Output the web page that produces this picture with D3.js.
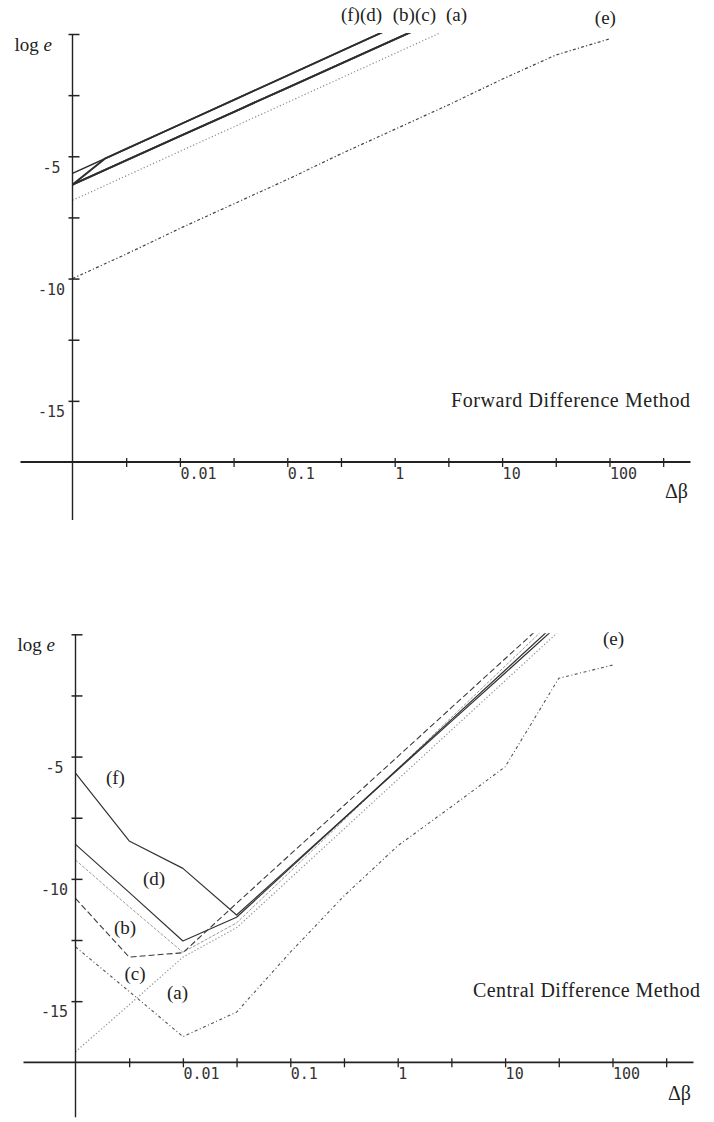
<!DOCTYPE html>
<html><head><meta charset="utf-8">
<script src="https://cdn.jsdelivr.net/npm/d3@7"></script>
<style>body{margin:0;background:#fff}</style>
</head><body>
<svg id="c" width="714" height="1122"></svg>
<script>
// ---------- data ----------
const gridDb = [0.001, 0.00316, 0.01, 0.0316, 0.1, 0.316, 1, 3.16, 10, 31.6, 100];
const xTickValues = [0.00316, 0.01, 0.0316, 0.1, 0.316, 1, 3.16, 10, 31.6, 100, 316];
const xTickLabels = ["", "0.01", "", "0.1", "", "1", "", "10", "", "100", ""];
const yTickValues = [0, -2.5, -5, -7.5, -10, -12.5, -15];
const yTickLabels = ["", "", "-5", "", "-10", "", "-15"];

// Forward difference method (log e)
const fwdA = [-6.8, -5.8, -4.8, -3.8, -2.8, -1.8, -0.8, 0.2];
const fwdB = [-6.16, -5.17, -4.18, -3.19, -2.2, -1.21, -0.22, 0.77];
const fwdC = [-6.16, -5.17, -4.18, -3.19, -2.2, -1.21, -0.22, 0.77];
const fwdDX = [0.001, 0.002, 0.00316, 0.01, 0.0316, 0.1, 0.316, 1];
const fwdD = [-6.16, -5.1, -4.7, -3.7, -2.7, -1.7, -0.7, 0.3];
const fwdF = [-5.7, -4.7, -3.7, -2.7, -1.7, -0.7, 0.3];
const fwdE = [-10, -9, -7.95, -6.95, -5.95, -4.9, -3.9, -2.9, -1.85, -0.86, -0.2];

// Central difference method (log e)
const cenA = [-17.07, -15.15, -13.2, -12.0, -9.98, -7.96, -5.94, -3.92, -1.9, 0.12];
const cenB = [-9.23, -11.14, -13.0, -11.8, -9.7, -7.6, -5.5, -3.4, -1.3, 0.8];
const cenC = [-10.8, -13.2, -13.02, -11.0, -9.0, -7.0, -5.0, -3.0, -1.0, 1.0];
const cenD = [-8.59, -10.55, -12.54, -11.57, -9.55, -7.53, -5.51, -3.49, -1.47, 0.55];
const cenF = [-5.68, -8.45, -9.57, -11.48, -9.5, -7.52, -5.54, -3.56, -1.58, 0.4];
const cenE = [-12.78, -14.6, -16.45, -15.45, -13.0, -10.7, -8.65, -7.05, -5.42, -1.8, -1.26];

// labels in data coordinates [Δβ, log e]
const fwdLabels = [["(f)(d)", 0.316, 0.53], ["(b)(c)", 0.96, 0.53], ["(a)", 3.0, 0.53], ["(e)", 73, 0.41]];
const cenLabels = [["(e)", 81.5, -0.44], ["(f)", 0.00192, -6.12], ["(d)", 0.00425, -10.24],
                   ["(b)", 0.00228, -12.26], ["(c)", 0.00286, -14.14], ["(a)", 0.00711, -14.92]];

// ---------- styles ----------
const styles = {
  a: {stroke: "#8c8c8c", dash: "1.2,2.2", w: 1.2},
  b: {stroke: "#9a9a9a", dash: "3,1.5", w: 1.0},
  c: {stroke: "#3a3a3a", dash: "6,3", w: 1.1},
  d: {stroke: "#333", dash: null, w: 1.2},
  f: {stroke: "#333", dash: null, w: 1.2},
  e: {stroke: "#555", dash: "3,2.5,1,2.5", w: 1.1}
};
// forward chart: coincident pairs print as heavy solid strokes
const fwdStyles = {
  b: {stroke: "#2e2e2e", dash: null, w: 1.9},
  c: {stroke: "#2e2e2e", dash: null, w: 1.9},
  d: {stroke: "#2e2e2e", dash: null, w: 1.9},
  f: {stroke: "#2e2e2e", dash: null, w: 1.5},
  e: {stroke: "#444", dash: "3,2.2,1.2,2.2", w: 1.2}
};
const SERIF = "'Liberation Serif','Times New Roman',serif";
const MONO = "'DejaVu Sans Mono','Liberation Mono',monospace";

const svg = d3.select("#c");

function panel(cfg) {
  const g = svg.append("g");
  const xs = d3.scaleLog().domain([0.001, 100]).range([cfg.x0, cfg.x0 + 537]);
  const ys = d3.scaleLinear().domain([-17.5, 0]).range([cfg.y0 + 428, cfg.y0]);
  const clipId = "clip" + cfg.id;
  svg.append("defs").append("clipPath").attr("id", clipId)
    .append("rect").attr("x", cfg.x0).attr("y", ys(0) - 1).attr("width", 640).attr("height", 430);

  // series
  const line = d3.line().x(d => xs(d[0])).y(d => ys(d[1]));
  const lg = g.append("g").attr("clip-path", `url(#${clipId})`);
  cfg.series.forEach(s => {
    const xv = s.x || gridDb;
    const pts = s.v.map((v, i) => [xv[i], v]);
    const st = Object.assign({}, styles[s.k], (cfg.styleOverride || {})[s.k] || {});
    lg.append("path").datum(pts).attr("d", line)
      .attr("fill", "none").attr("stroke", st.stroke).attr("stroke-width", st.w)
      .attr("stroke-dasharray", st.dash).attr("stroke-linejoin", "round");
  });

  // x axis
  const xAxisY = ys(-17.5);
  g.append("line").attr("x1", cfg.x0 - 52).attr("x2", cfg.x0 + 618)
    .attr("y1", xAxisY).attr("y2", xAxisY).attr("stroke", "#222").attr("stroke-width", 1.8);
  const xa = g.append("g").attr("transform", `translate(0,${xAxisY})`)
    .call(d3.axisBottom(xs).tickValues(xTickValues).tickSize(9)
      .tickFormat((d, i) => xTickLabels[i]));
  xa.select(".domain").remove();
  xa.selectAll(".tick line").attr("y1", -4).attr("y2", 5).attr("stroke", "#222").attr("stroke-width", 1.3);
  xa.selectAll(".tick text").attr("text-anchor", "start").attr("x", 0).attr("y", 6)
    .attr("font-family", MONO).attr("font-size", 15).attr("fill", "#333");

  // y axis
  const yAxisX = xs(0.001);
  g.append("line").attr("x1", yAxisX).attr("x2", yAxisX)
    .attr("y1", ys(0)).attr("y2", xAxisY + cfg.below).attr("stroke", "#222").attr("stroke-width", 1.4);
  const ya = g.append("g").attr("transform", `translate(${yAxisX},0)`)
    .call(d3.axisLeft(ys).tickValues(yTickValues).tickSize(4)
      .tickFormat((d, i) => yTickLabels[i]));
  ya.select(".domain").remove();
  ya.selectAll(".tick line").attr("x1", -4).attr("x2", 7).attr("stroke", "#222").attr("stroke-width", 1.5);
  ya.selectAll(".tick text").attr("text-anchor", "middle").attr("x", -21).attr("dy", "1.05em")
    .attr("font-family", MONO).attr("font-size", 15).attr("fill", "#333");

  // axis titles
  g.append("text").attr("x", yAxisX - 58).attr("y", ys(0) + 17)
    .attr("font-family", SERIF).attr("font-size", 19).attr("fill", "#222")
    .html('log <tspan font-style="italic">e</tspan>');
  g.append("text").attr("x", cfg.x0 + 604).attr("y", xAxisY + cfg.dbDy)
    .attr("text-anchor", "middle").attr("font-family", SERIF).attr("font-size", 20).attr("fill", "#222")
    .text("Δβ");

  // method title
  g.append("text").attr("x", cfg.x0 + cfg.titleX).attr("y", ys(cfg.titleV))
    .attr("font-family", SERIF).attr("font-size", 20).attr("fill", "#222")
    .attr("textLength", cfg.titleW).attr("lengthAdjust", "spacing")
    .text(cfg.title);

  // curve labels
  cfg.labels.forEach(l => {
    g.append("text").attr("x", xs(l[1])).attr("y", ys(l[2]))
      .attr("font-family", SERIF).attr("font-size", 19).attr("fill", "#222").text(l[0]);
  });
}

panel({
  id: "f", x0: 72.5, y0: 34, below: 58, dbDy: 36,
  title: "Forward Difference Method", titleX: 378.5, titleV: -15.27, titleW: 239,
  styleOverride: fwdStyles,
  series: [
    {k: "e", v: fwdE}, {k: "a", v: fwdA}, {k: "b", v: fwdB}, {k: "c", v: fwdC},
    {k: "d", v: fwdD, x: fwdDX}, {k: "f", v: fwdF}
  ],
  labels: fwdLabels
});

panel({
  id: "c", x0: 75.5, y0: 634.3, below: 55, dbDy: 38,
  title: "Central Difference Method", titleX: 397.5, titleV: -14.84, titleW: 227,
  series: [
    {k: "e", v: cenE}, {k: "a", v: cenA}, {k: "b", v: cenB}, {k: "c", v: cenC},
    {k: "d", v: cenD}, {k: "f", v: cenF}
  ],
  labels: cenLabels
});
</script>
</body></html>
